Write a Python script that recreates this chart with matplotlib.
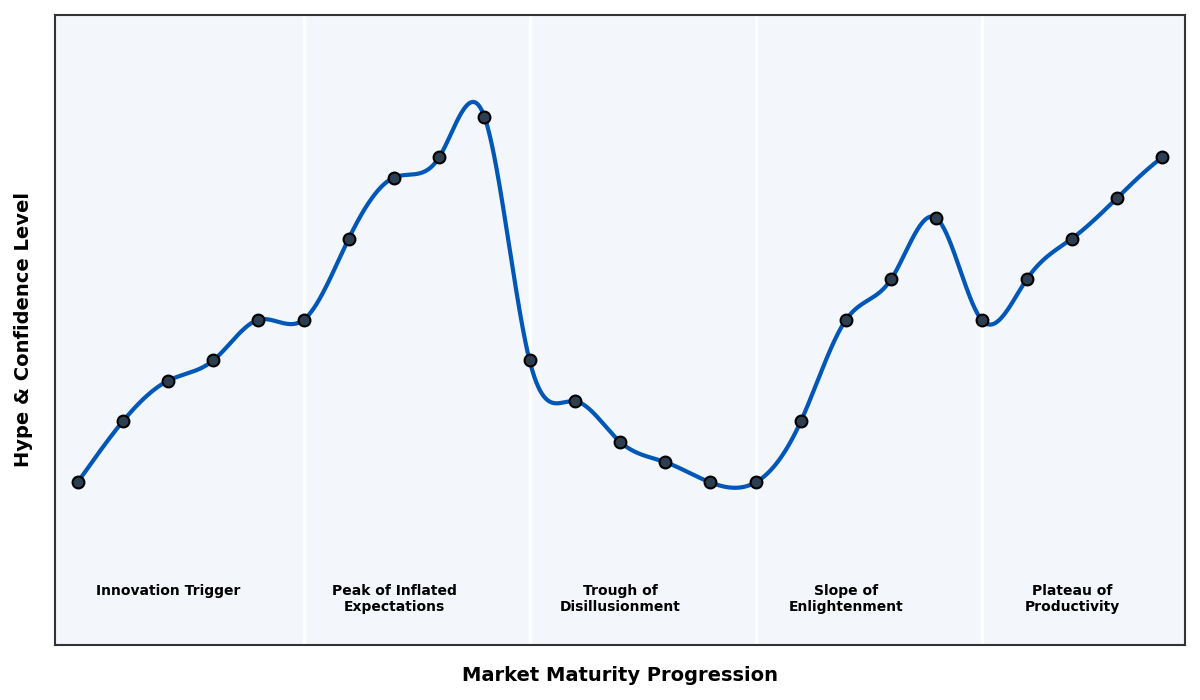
import numpy as np
import matplotlib
matplotlib.use("Agg")
import matplotlib.pyplot as plt

# ---- data ----
stages = list(range(25))
hype = [10, 25, 35, 40, 50, 50, 70, 85, 90, 100,
        40, 30, 20, 15, 10, 10, 25, 50, 60, 75,
        50, 60, 70, 80, 90]
phase_labels = ["Innovation Trigger", "Peak of Inflated\nExpectations",
                "Trough of\nDisillusionment", "Slope of\nEnlightenment",
                "Plateau of\nProductivity"]
phase_centers = [2, 7, 12, 17, 22]
phase_bounds = [5, 10, 15, 20]


def not_a_knot_spline(x, y, xs):
    x = np.asarray(x, float)
    y = np.asarray(y, float)
    n = len(x)
    h = np.diff(x)
    A = np.zeros((n, n))
    r = np.zeros(n)
    for i in range(1, n - 1):
        A[i, i - 1] = h[i - 1]
        A[i, i] = 2 * (h[i - 1] + h[i])
        A[i, i + 1] = h[i]
        r[i] = 6 * ((y[i + 1] - y[i]) / h[i] - (y[i] - y[i - 1]) / h[i - 1])
    A[0, 0] = h[1]
    A[0, 1] = -(h[0] + h[1])
    A[0, 2] = h[0]
    A[-1, -3] = h[-1]
    A[-1, -2] = -(h[-2] + h[-1])
    A[-1, -1] = h[-2]
    M = np.linalg.solve(A, r)
    idx = np.clip(np.searchsorted(x, xs) - 1, 0, n - 2)
    t = xs - x[idx]
    hi = h[idx]
    b = (y[idx + 1] - y[idx]) / hi - hi * (2 * M[idx] + M[idx + 1]) / 6
    return y[idx] + b * t + M[idx] / 2 * t ** 2 + (M[idx + 1] - M[idx]) / (6 * hi) * t ** 3


xs = np.linspace(stages[0], stages[-1], 1500)
ys = not_a_knot_spline(stages, hype, xs)

fig = plt.figure(figsize=(12, 7), dpi=100)
ax = fig.add_axes([0.0458, 0.0786, 0.9417, 0.9])
ax.set_facecolor("#f3f6fa")

for b in phase_bounds:
    ax.axvline(b, color="white", lw=2.5, zorder=1)

ax.plot(xs, ys, color="#0057b8", lw=3, zorder=3)
ax.plot(stages, hype, "o", color="#2c3e50", markeredgecolor="black",
        markeredgewidth=1.5, markersize=8.5, zorder=4)

for c, lab in zip(phase_centers, phase_labels):
    ax.text(c, -15, lab, ha="center", va="top", fontsize=10,
            fontweight="bold", color="black", linespacing=1.15)

ax.set_xlim(-0.5, 24.5)
ax.set_ylim(-30, 125)
ax.set_xticks([])
ax.set_yticks([])
for s in ax.spines.values():
    s.set_color("#333333")
    s.set_linewidth(1.5)

ax.set_xlabel("Market Maturity Progression", fontsize=14, fontweight="bold",
              labelpad=15)
ax.set_ylabel("Hype & Confidence Level", fontsize=14, fontweight="bold",
              labelpad=15.5)

fig.savefig("out.png", dpi=100)
